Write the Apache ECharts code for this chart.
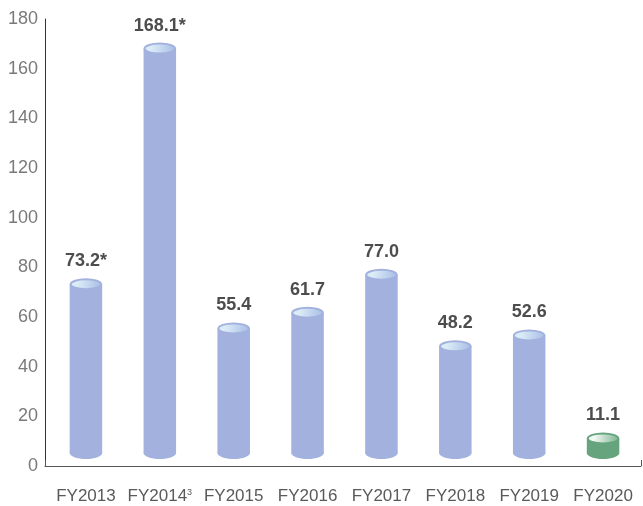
<!DOCTYPE html>
<html>
<head>
<meta charset="utf-8">
<script src="https://cdn.jsdelivr.net/npm/echarts@6/dist/echarts.min.js"></script>
<style>
html,body{margin:0;padding:0;background:#fff;}
#chart{width:643px;height:506px;}
</style>
</head>
<body>
<div id="chart"></div>
<script>
const categories = ['FY2013','FY2014','FY2015','FY2016','FY2017','FY2018','FY2019','FY2020'];
const footnotes = ['','3','','','','','',''];
const values = [73.2, 168.1, 55.4, 61.7, 77.0, 48.2, 52.6, 11.1];
const labelSuffix = ['*','*','','','','','',''];
const highlight = [false,false,false,false,false,false,false,true];
const yTicks = [0,20,40,60,80,100,120,140,160,180];

const blue = {body:'#a2b1dd', topL:'#dcecf7', topR:'#a7bde6'};
const green = {body:'#66a47e', topL:'#f2f8f3', topR:'#7bb290'};

const chart = echarts.init(document.getElementById('chart'), null, {renderer:'canvas'});
const FONT = 'Liberation Sans, Arial, Helvetica, sans-serif';

const option = {
  animation:false,
  backgroundColor:'#fff',
  grid:[
    {left:45, right:2, top:19, bottom:40},
    {left:49, right:3, top:19, bottom:40}
  ],
  xAxis:[
    {gridIndex:0, type:'value', min:0, max:1, interval:1,
     axisLine:{show:true, lineStyle:{color:'#555', width:1}},
     axisTick:{show:true, inside:true, length:6, lineStyle:{color:'#555'}},
     axisLabel:{show:false}, splitLine:{show:false}},
    {gridIndex:1, type:'category', data:categories,
     axisLine:{show:false}, axisTick:{show:false},
     axisLabel:{
       interval:0,
       margin:22,
       formatter:function(v){ const f = footnotes[categories.indexOf(v)]; return f ? v + '{sup|' + f + '}' : v; },
       color:'#5a5a5a', fontSize:17, fontFamily:FONT,
       rich:{sup:{fontSize:9, color:'#5a5a5a', fontFamily:FONT, verticalAlign:'top', padding:[0,0,8,0]}}
     }}
  ],
  yAxis:[
    {gridIndex:0, type:'value', min:yTicks[0], max:yTicks[yTicks.length-1], interval:yTicks[1]-yTicks[0],
     axisLine:{show:true, lineStyle:{color:'#333', width:1}},
     axisTick:{show:false}, splitLine:{show:false},
     axisLabel:{color:'#7a7a7a', fontSize:18, fontFamily:FONT, margin:7}},
    {gridIndex:1, type:'value', min:yTicks[0], max:yTicks[yTicks.length-1], show:false}
  ],
  series:[{
    type:'custom',
    xAxisIndex:1, yAxisIndex:1,
    data: values.map((v,i)=>[i,v]),
    renderItem:function(params, api){
      const i = api.value(0);
      const v = api.value(1);
      const top = api.coord([i, v]);
      const base = api.coord([i, 0]);
      const band = api.size([1,0])[0];
      const w = band*0.44;
      const rx = w/2, ry = 6;
      const x = top[0];
      const yTop = top[1];
      const yBot = base[1] - 13;
      const c = highlight[i] ? green : blue;
      const grad = new echarts.graphic.LinearGradient(0,0,1,0.4,[
        {offset:0, color:c.topL},{offset:0.25, color:c.topL},{offset:1, color:c.topR}
      ]);
      return {
        type:'group',
        children:[
          {type:'rect', shape:{x:x-rx, y:yTop, width:w, height:Math.max(0,yBot-yTop)}, style:{fill:c.body}},
          {type:'ellipse', shape:{cx:x, cy:yBot, rx:rx, ry:ry}, style:{fill:c.body}},
          {type:'ellipse', shape:{cx:x, cy:yTop, rx:rx-1, ry:ry-1}, style:{fill:grad, stroke:c.body, lineWidth:2}},
          {type:'text', style:{text:v.toFixed(1)+labelSuffix[i], x:x, y:yTop-23, align:'center', verticalAlign:'middle',
            fill:'#4d4d4d', font:'bold 18px '+FONT}}
        ]
      };
    }
  }]
};
chart.setOption(option);
</script>
</body>
</html>
